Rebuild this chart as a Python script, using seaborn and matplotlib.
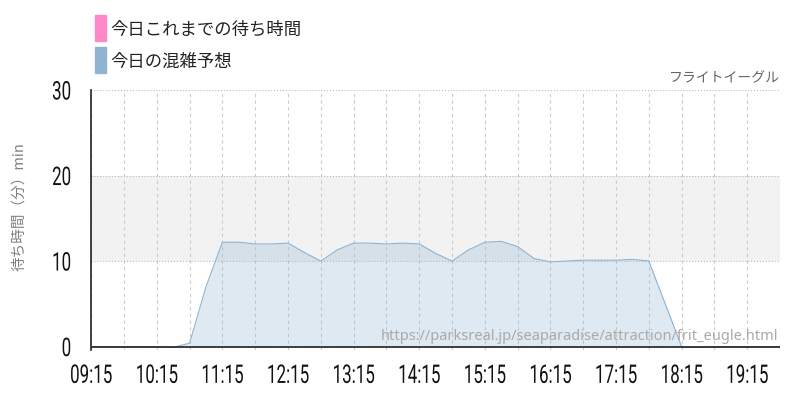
import matplotlib
matplotlib.use('Agg')
import matplotlib.pyplot as plt
import matplotlib.dates as mdates
import matplotlib.patches as mpatches
from matplotlib.patheffects import AbstractPathEffect
from matplotlib.transforms import Affine2D
import seaborn as sns
import pandas as pd
import numpy as np

# forecast wait time, every 15 minutes
times = ['09:15', '09:30', '09:45', '10:00', '10:15', '10:30', '10:45', '11:00',
         '11:15', '11:30', '11:45', '12:00', '12:15', '12:30', '12:45', '13:00',
         '13:15', '13:30', '13:45', '14:00', '14:15', '14:30', '14:45', '15:00',
         '15:15', '15:30', '15:45', '16:00', '16:15', '16:30', '16:45', '17:00',
         '17:15', '17:30', '17:45', '18:00', '18:15', '18:30', '18:45', '19:00',
         '19:15', '19:30', '19:45']
forecast = [0, 0, 0, 0, 0, -0.1, 0.4, 7.0,
            12.2, 12.2, 12.0, 12.0, 12.1, 11.0, 10.0, 11.3,
            12.1, 12.1, 12.0, 12.1, 12.0, 10.9, 10.0, 11.3,
            12.2, 12.3, 11.7, 10.3, 9.9, 10.0, 10.1, 10.1,
            10.1, 10.2, 10.0, 5.0, 0, -0.1, 0, 0,
            0, 0, 0]
legend_labels = ['今日これまでの待ち時間', '今日の混雑予想']
legend_colors = ['#ff88c8', '#8fb3d0']


class Squeeze(AbstractPathEffect):
    """Narrow the glyphs horizontally (no condensed font installed)."""
    def __init__(self, sx, anchor='center'):
        super().__init__()
        self.sx = sx
        self.anchor = anchor

    def draw_path(self, renderer, gc, tpath, affine, rgbFace=None):
        ext = tpath.get_extents()
        cx = (ext.x0 + ext.x1) / 2 if self.anchor == 'center' else ext.x1
        t = Affine2D().translate(-cx, 0).scale(self.sx, 1).translate(cx, 0) + affine
        renderer.draw_path(gc, tpath, t, rgbFace)


df = pd.DataFrame({'time': pd.to_datetime(['2024-01-01 ' + t for t in times]),
                   'wait': forecast})

sns.set_style('white')
plt.rcParams['font.family'] = ['Noto Sans CJK JP', 'DejaVu Sans']

fig = plt.figure(figsize=(8, 4), dpi=100)
ax = fig.add_axes([0.114, 0.125, 0.861, 0.65])

ax.axhspan(10, 20, color='#f2f2f2', zorder=0, lw=0)
sns.lineplot(data=df, x='time', y='wait', color='#8fb3d0', lw=0.8, ax=ax, zorder=3)
ax.fill_between(df['time'], df['wait'], 0, color='#8fb3d0', alpha=0.28, lw=0, zorder=2)

ax.set_xlim(pd.Timestamp('2024-01-01 09:15'), pd.Timestamp('2024-01-01 19:45'))
ax.set_ylim(-0.4, 30)
ax.set_yticks([0, 10, 20, 30])
ax.xaxis.set_major_locator(mdates.MinuteLocator(byminute=[15]))
ax.xaxis.set_minor_locator(mdates.MinuteLocator(byminute=[45]))
ax.xaxis.set_major_formatter(mdates.DateFormatter('%H:%M'))

ax.grid(axis='x', which='both', color='#cccccc', ls=(0, (3, 3)), lw=0.8)
ax.grid(axis='y', which='major', color='#bbbbbb', ls=':', lw=0.8)
ax.axhline(0, color='#222222', lw=1.2, zorder=4)

for s in ['top', 'right', 'bottom']:
    ax.spines[s].set_visible(False)
ax.spines['left'].set_color('#222222')
ax.spines['left'].set_linewidth(1.2)

ax.tick_params(axis='y', length=12, color='#aaaaaa', width=1, pad=2)
ax.tick_params(axis='x', which='major', length=7, color='#aaaaaa', width=1, pad=3)
ax.tick_params(axis='x', which='minor', length=0)
for lab in ax.get_xticklabels():
    lab.set_family('Roboto')
    lab.set_fontsize(18.5)
    lab.set_color('#111111')
    lab.set_path_effects([Squeeze(0.66)])
for lab in ax.get_yticklabels():
    lab.set_family('Roboto')
    lab.set_fontsize(18.5)
    lab.set_color('#111111')
    lab.set_path_effects([Squeeze(0.66, anchor='right')])

ax.set_xlabel('')
ax.set_ylabel('待ち時間（分）min', color='#808080', fontsize=10.5)
ax.yaxis.set_label_coords(-0.094, 0.55)

# legend
for i, (lab, col) in enumerate(zip(legend_labels, legend_colors)):
    y = 0.93 - i * 0.08
    fig.patches.append(mpatches.Rectangle((0.119, y - 0.032), 0.014, 0.064,
                                          transform=fig.transFigure, color=col))
    fig.text(0.138, y - 0.005, lab, fontsize=12.5, va='center', ha='left', color='#222222')

fig.text(0.975, 0.805, 'フライトイーグル', fontsize=10, color='#666666', ha='right', va='center')
ax.text(0.997, 0.05, 'https://parksreal.jp/seaparadise/attraction/frit_eugle.html',
        transform=ax.transAxes, ha='right', va='center', fontsize=10.5,
        color='#aaaaaa', family=['Noto Sans', 'DejaVu Sans'], zorder=5)

fig.savefig('out.png', dpi=100)
